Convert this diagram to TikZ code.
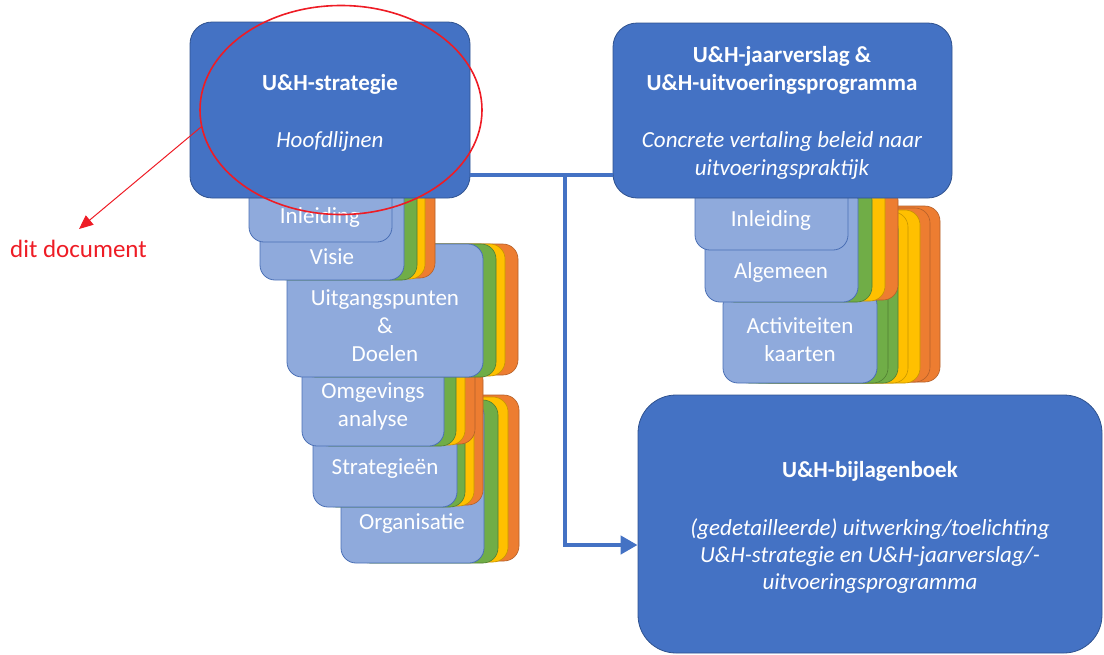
\documentclass[tikz,border=0pt]{standalone}
\usepackage{fontspec}
\setmainfont{Carlito}
\usetikzlibrary{arrows.meta,shapes.geometric}
\definecolor{mainblue}{HTML}{4472C4}
\definecolor{mainedge}{HTML}{2F528F}
\definecolor{lightblue}{HTML}{8FAADC}
\definecolor{lightedge}{HTML}{4A6FB5}
\definecolor{cgreen}{HTML}{70AD47}
\definecolor{cgreenedge}{HTML}{507E32}
\definecolor{cyellow}{HTML}{FFC000}
\definecolor{cyellowedge}{HTML}{C59500}
\definecolor{corange}{HTML}{ED7D31}
\definecolor{corangeedge}{HTML}{B3602A}
\definecolor{markred}{HTML}{EE1C25}
\tikzset{
  bigbox/.style={fill=mainblue, draw=mainedge, line width=0.8pt, inner sep=0pt},
  lcard/.style={fill=lightblue, draw=lightedge, line width=0.8pt, rounded corners=15pt},
  gcard/.style={fill=cgreen, draw=cgreenedge, line width=0.6pt, rounded corners=15pt},
  ycard/.style={fill=cyellow, draw=cyellowedge, line width=0.6pt, rounded corners=15pt},
  ocard/.style={fill=corange, draw=corangeedge, line width=0.6pt, rounded corners=15pt},
  lbl/.style={text=white, font=\fontsize{23}{28}\selectfont, anchor=base, inner sep=0pt},
  conn/.style={draw=mainblue, line width=4.5pt},
  redarrow/.style={draw=markred, line width=1pt, -{Triangle[length=14pt,width=12pt]}},
}
% light card with green, yellow, orange cards behind it
% #1 left, #2 top, #3 right, #4 bottom, #5 green right, #6 yellow right, #7 orange right
\newcommand\cardstack[7]{%
  \pgfmathsetmacro\cw{#3-#1}%
  \draw[ocard] (#7-\cw,#2) rectangle (#7,#4-2);
  \draw[ycard] (#6-\cw,#2) rectangle (#6,#4-1);
  \draw[gcard] (#5-\cw,#2) rectangle (#5,#4);
  \draw[lcard] (#1,#2) rectangle (#3,#4);
}
\begin{document}
\begin{tikzpicture}[x=1pt,y=-1pt]
\useasboundingbox (0,0) rectangle (1104,654);

% ---------- left stack (back to front) ----------
\pgfmathsetmacro\cw{143}
\draw[ocard] (519-\cw,395) rectangle (519,561);
\draw[ycard] (508-\cw,397) rectangle (508,562);
\draw[gcard] (498-\cw,400) rectangle (498,563);
\draw[lcard] (341,400) rectangle (484,563);
\node[lbl] (org) at (412,529) {Organisatie};

\cardstack{313}{365}{457}{507}{465}{474}{483}
\node[lbl] (strat2) at (385,474) {Strategieën};

\cardstack{302}{360}{444}{446}{456}{465}{475}
\node[lbl] (omg1) at (373,398) {Omgevings};
\node[lbl] (omg2) at (373,426) {analyse};

\begin{scope}[every path/.append style={rounded corners=20pt}]
\cardstack{287}{244}{483}{377}{496}{505}{518}
\end{scope}
\node[lbl] (uit1) at (385,305) {Uitgangspunten};
\node[lbl] (uit2) at (385,333) {\&};
\node[lbl] (uit3) at (385,361) {Doelen};

\cardstack{260}{180}{404}{280}{417}{425}{435}
\node[lbl] (vis) at (332,264) {Visie};

\draw[lcard] (249,165) rectangle (392,242);
\node[lbl] (inl1) at (320,223) {Inleiding};

% ---------- right stack (back to front) ----------
\pgfmathsetmacro\cw{154}
\draw[ocard] (940-\cw,206) rectangle (940,382);
\draw[ocard] (930-\cw,208) rectangle (930,382);
\draw[ycard] (920-\cw,210) rectangle (920,383);
\draw[ycard] (908-\cw,212) rectangle (908,383);
\draw[gcard] (898-\cw,214) rectangle (898,383);
\draw[gcard] (888-\cw,216) rectangle (888,383);
\draw[lcard] (723,290) rectangle (877,383);
\node[lbl] (act1) at (800,333) {Activiteiten};
\node[lbl] (act2) at (800,361) {kaarten};

\cardstack{705}{185}{858}{302}{872}{885}{898}
\node[lbl] (alg) at (781,278) {Algemeen};

\draw[lcard] (695,170) rectangle (848,250);
\node[lbl] (inl2) at (771,226) {Inleiding};

% ---------- main boxes ----------
\node[bigbox, rounded corners=22pt, minimum width=280pt, minimum height=176pt] (strat) at (330,110) {};
\node[lbl, font=\fontsize{23}{28}\selectfont\bfseries] (s1) at (330,90) {U\&H-strategie};
\node[lbl, font=\fontsize{23}{28}\selectfont\itshape] (s2) at (330,147) {Hoofdlijnen};

\node[bigbox, rounded corners=24pt, minimum width=339pt, minimum height=175pt] (jaar) at (782.5,110.5) {};
\node[lbl, font=\fontsize{23}{28}\selectfont\bfseries] (j1t) at (782,62) {U\&H-jaarverslag \&};
\node[lbl, font=\fontsize{23}{28}\selectfont\bfseries] (j2t) at (782,90) {U\&H-uitvoeringsprogramma};
\node[lbl, font=\fontsize{23}{28}\selectfont\itshape] (j3t) at (782,147) {Concrete vertaling beleid naar};
\node[lbl, font=\fontsize{23}{28}\selectfont\itshape] (j4t) at (782,175) {uitvoeringspraktijk};

\node[bigbox, rounded corners=38pt, minimum width=464pt, minimum height=258pt] (bijl) at (870,524) {};
\node[lbl, font=\fontsize{23}{28}\selectfont\bfseries] (b1) at (870,477) {U\&H-bijlagenboek};
\node[lbl, font=\fontsize{23}{28}\selectfont\itshape] (b2) at (870,535) {(gedetailleerde) uitwerking/toelichting};
\node[lbl, font=\fontsize{23}{28}\selectfont\itshape] (b3) at (870,562) {U\&H-strategie en U\&H-jaarverslag/-};
\node[lbl, font=\fontsize{23}{28}\selectfont\itshape] (b4) at (870,589) {uitvoeringsprogramma};

% ---------- connectors ----------
\coordinate (jn1) at (565,175);
\coordinate (jn2) at (565,545);
\draw[conn] (strat.east |- jn1) -- (jaar.west |- jn1);
\draw[conn, -{Triangle[length=17pt,width=18pt]}] (jn1) -- (jn2) -- (bijl.west |- jn2);

% ---------- red annotation ----------
\node[draw=markred, line width=1.6pt, ellipse, minimum width=282pt, minimum height=209pt, inner sep=0pt] (ell) at (341,110) {};
\node[text=markred, font=\fontsize{25}{30}\selectfont, anchor=base west, inner sep=0pt] (dit) at (10,257) {dit document};
\coordinate (a0) at (201,127);
\coordinate (a1) at (79,229);
\draw[redarrow] (a0) -- (a1);
\end{tikzpicture}
\end{document}
